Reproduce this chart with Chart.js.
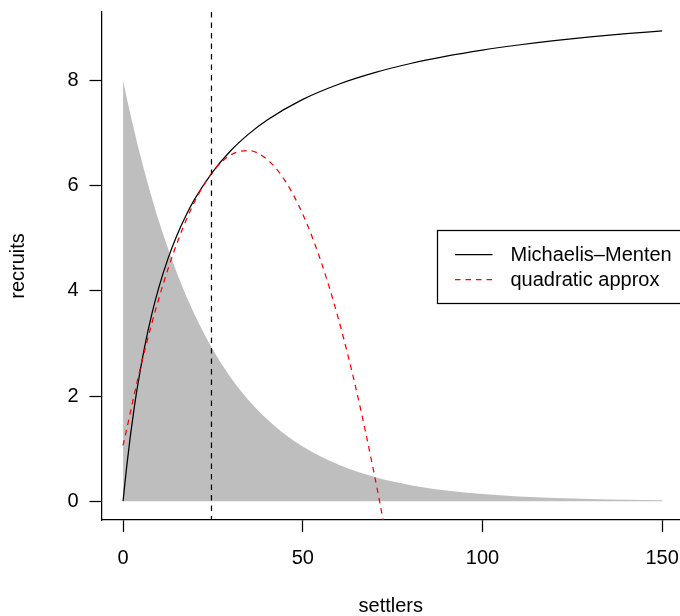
<!DOCTYPE html>
<html><head><meta charset="utf-8">
<script src="https://cdn.jsdelivr.net/npm/chart.js@4"></script>
<style>html,body{margin:0;padding:0;background:#fff;overflow:hidden}canvas{display:block}</style>
</head><body>
<canvas id="c" width="680" height="616"></canvas>
<script>
// ---- data ----
const xTicks = [0, 50, 100, 150];
const yTicks = [0, 2, 4, 6, 8];
const xTitle = "settlers";
const yTitle = "recruits";
const legendLabels = ["Michaelis\u2013Menten", "quadratic approx"];

// Michaelis-Menten curve (black)
const mmX = [0, 1, 2, 3, 4, 6, 8, 10, 12.5, 15, 17.5, 20, 25, 30, 35, 40, 50, 60, 70, 80, 90, 100, 110, 120, 130, 140, 150];
const mmY = [0, 0.652, 1.223, 1.727, 2.174, 2.936, 3.558, 4.077, 4.616, 5.061, 5.436, 5.756, 6.272, 6.672, 6.989, 7.248, 7.645, 7.934, 8.154, 8.328, 8.468, 8.583, 8.680, 8.763, 8.834, 8.895, 8.95];

// quadratic approximation (red dashed)
const quadX = [0, 5, 10, 15, 20, 25, 30, 35, 40, 45, 50, 55, 60, 65, 70, 72, 74];
const quadY = [1.061, 2.585, 3.867, 4.909, 5.711, 6.271, 6.591, 6.669, 6.507, 6.105, 5.461, 4.577, 3.451, 2.085, 0.479, -0.231, -0.981];

// settler distribution (grey area)
const greyX = [0, 2.5, 5, 7.5, 10, 15, 20, 25, 30, 35, 40, 45, 50, 60, 70, 80, 90, 100, 110, 120, 130, 140, 150];
const greyY = [8, 7.224, 6.523, 5.891, 5.320, 4.338, 3.537, 2.883, 2.351, 1.917, 1.563, 1.275, 1.039, 0.691, 0.459, 0.305, 0.203, 0.135, 0.090, 0.060, 0.040, 0.026, 0.018];

// mean settlers (vertical dashed line)
const meanSettlers = 24.6;

// axis limits (R style 4% padding)
const xMin = -6, xMax = 154.96, xPlotRight = 156;
const yMin = -0.358, yMax = 9.308;

const pts = (xs, ys) => xs.map((x, i) => ({x: x, y: ys[i]}));

Chart.defaults.font.family = "'Liberation Sans', Arial, Helvetica, sans-serif";
Chart.defaults.font.size = 20;
Chart.defaults.color = '#000';

const FONT = "20px 'Liberation Sans', Arial, Helvetica, sans-serif";
const DASH = [5.5, 5];

const legendPlugin = {
  id: 'rlegend',
  afterDraw(chart) {
    const ctx = chart.ctx;
    const xs = chart.scales.x;
    const a = chart.chartArea;
    const right = xs.getPixelForValue(xPlotRight);
    const w = 247, h = 73;
    const left = Math.round(right - w) + 0.5;
    const top = Math.round((a.top + a.bottom) / 2 - h / 2) + 0.5;
    ctx.save();
    ctx.fillStyle = '#fff';
    ctx.fillRect(left, top, w + 10, h);
    ctx.strokeStyle = '#000';
    ctx.lineWidth = 1.25;
    ctx.strokeRect(left, top, w + 10, h);
    const rows = [top + h / 2 - 12.5, top + h / 2 + 12.5];
    const styles = [{c: '#000', d: []}, {c: '#ff0000', d: DASH}];
    rows.forEach((y, i) => {
      ctx.beginPath();
      ctx.strokeStyle = styles[i].c;
      ctx.setLineDash(styles[i].d);
      ctx.moveTo(left + 17.5, y);
      ctx.lineTo(left + 55, y);
      ctx.stroke();
      ctx.setLineDash([]);
      ctx.fillStyle = '#000';
      ctx.font = FONT;
      ctx.textAlign = 'left';
      ctx.textBaseline = 'middle';
      ctx.fillText(legendLabels[i], left + 73, y + 1);
    });
    ctx.restore();
  }
};

function fixScale(s) {
  s.paddingLeft = 0; s.paddingRight = 0; s.paddingTop = 0; s.paddingBottom = 0;
}

new Chart(document.getElementById('c'), {
  type: 'scatter',
  data: {
    datasets: [
      { data: [{x: meanSettlers, y: yMax}, {x: meanSettlers, y: yMin}], showLine: true, borderColor: '#000', borderWidth: 1.25, borderDash: DASH, pointRadius: 0, clip: 0 },
      { data: pts(quadX, quadY), showLine: true, borderColor: '#ff0000', borderWidth: 1.25, borderDash: DASH, pointRadius: 0, cubicInterpolationMode: 'monotone', clip: 0 },
      { data: pts(mmX, mmY), showLine: true, borderColor: '#000', borderWidth: 1.25, pointRadius: 0, cubicInterpolationMode: 'monotone', clip: 0 },
      { data: pts(greyX, greyY), showLine: true, borderWidth: 0, borderColor: 'rgba(0,0,0,0)', backgroundColor: '#bebebe', fill: 'origin', pointRadius: 0, cubicInterpolationMode: 'monotone', clip: 0 }
    ]
  },
  options: {
    responsive: false,
    animation: false,
    devicePixelRatio: 1,
    layout: { padding: { top: 12, left: 0, right: 0, bottom: 0 } },
    plugins: { legend: { display: false }, tooltip: { enabled: false } },
    scales: {
      x: {
        type: 'linear', min: xMin, max: xMax,
        afterBuildTicks: s => { s.ticks = xTicks.map(v => ({value: v})); },
        afterFit: s => { s.height = 96; fixScale(s); },
        ticks: { padding: 14, maxRotation: 0, callback: v => String(v) },
        grid: { drawOnChartArea: false, drawTicks: true, tickLength: 12, tickColor: '#000', tickWidth: 1.25 },
        border: { display: true, color: '#000', width: 1.25 },
        title: { display: true, text: xTitle, padding: { top: 0, bottom: -2 }, font: { size: 20 } }
      },
      y: {
        type: 'linear', min: yMin, max: yMax,
        afterBuildTicks: s => { s.ticks = yTicks.map(v => ({value: v})); },
        afterFit: s => { s.width = 101.5; fixScale(s); },
        ticks: { padding: 11, callback: v => String(v) },
        grid: { drawOnChartArea: false, drawTicks: true, tickLength: 12, tickColor: '#000', tickWidth: 1.25 },
        border: { display: true, color: '#000', width: 1.25 },
        title: { display: true, text: yTitle, padding: { top: 6, bottom: 0 }, font: { size: 20 } }
      }
    }
  },
  plugins: [legendPlugin]
});
</script>
</body></html>
